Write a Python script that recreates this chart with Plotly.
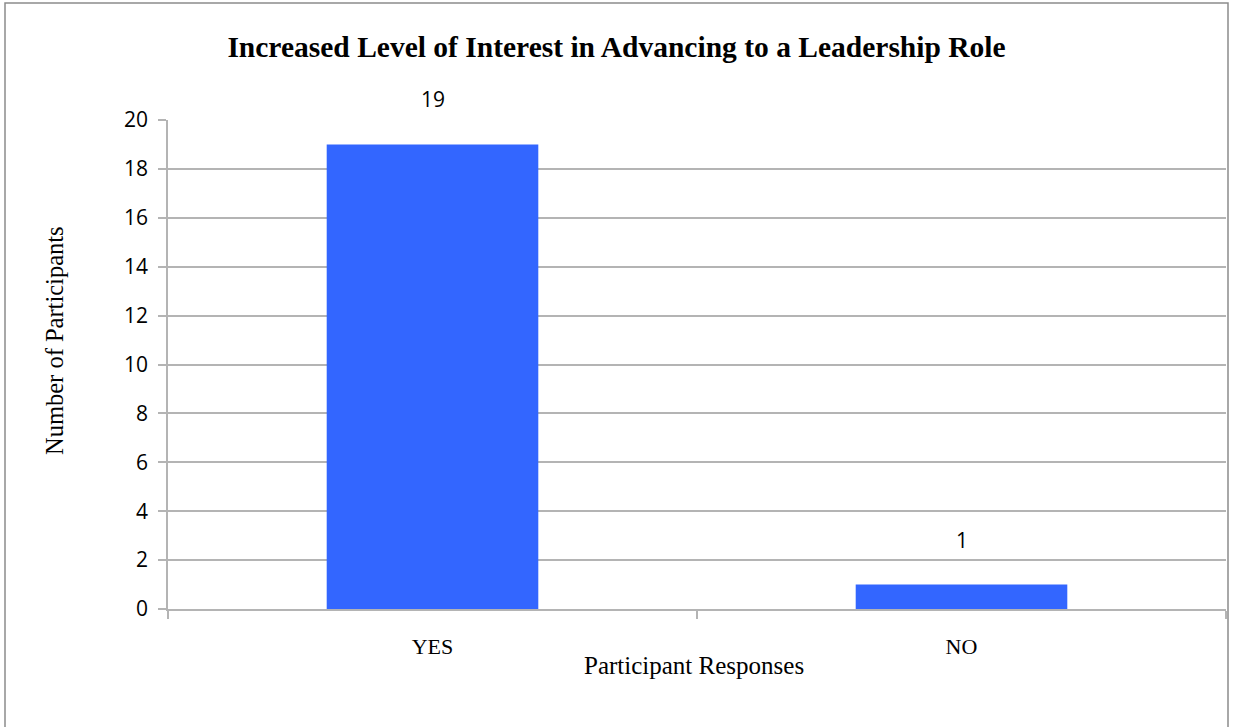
import plotly.graph_objects as go

# Survey responses
responses = ["YES", "NO"]
participants = [19, 1]

title_text = "Increased Level of Interest in Advancing to a Leadership Role"
x_title = "Participant Responses"
y_title = "Number of Participants"
y_ticks = [0, 2, 4, 6, 8, 10, 12, 14, 16, 18, 20]

W, H = 1233, 727
ML, MR, MT, MB = 168, 7, 120, 118
PW, PH = W - ML - MR, H - MT - MB

GRID = "#b4b4b4"
BAR = "#3366ff"
SERIF = "Liberation Serif, Times New Roman, serif"
SANS = "Open Sans, Lato, sans-serif"

fig = go.Figure(
    go.Bar(
        x=responses,
        y=participants,
        width=0.4,
        marker=dict(color=BAR, line=dict(width=0)),
        hoverinfo="x+y",
    )
)

# value labels above each bar
for r, v in zip(responses, participants):
    fig.add_annotation(
        x=r, y=v, xref="x", yref="y", text=str(v), showarrow=False,
        yanchor="middle", yshift=45,
        font=dict(family=SANS, size=21, color="#000000"),
    )

# axis titles
fig.add_annotation(
    x=(694 - ML) / PW, y=1 - (665 - MT) / PH, xref="paper", yref="paper",
    text=x_title, showarrow=False, xanchor="center", yanchor="middle",
    font=dict(family=SERIF, size=25, color="#000000"),
)
fig.add_annotation(
    x=(54 - ML) / PW, y=1 - (341 - MT) / PH, xref="paper", yref="paper",
    text=y_title, showarrow=False, textangle=-90, xanchor="center", yanchor="middle",
    font=dict(family=SERIF, size=24.5, color="#000000"),
)

# outer chart border
fig.add_shape(
    type="rect", xref="paper", yref="paper",
    x0=(5 - ML) / PW, x1=(1228 - ML) / PW,
    y0=1 - (740 - MT) / PH, y1=1 - (3 - MT) / PH,
    line=dict(color="#8c8c8c", width=1.5), fillcolor="rgba(0,0,0,0)", layer="below",
)

fig.update_layout(
    width=W, height=H,
    margin=dict(l=ML, r=MR, t=MT, b=MB, autoexpand=False),
    paper_bgcolor="#ffffff", plot_bgcolor="#ffffff",
    showlegend=False,
    title=dict(
        text="<b>" + title_text + "</b>",
        x=0.5, xref="container", xanchor="center",
        y=1 - 47 / H, yref="container", yanchor="middle",
        font=dict(family=SERIF, size=29.5, color="#000000"),
    ),
    xaxis=dict(
        type="category", range=[-0.5, 1.5],
        showline=True, linecolor=GRID, linewidth=1.5,
        ticks="outside", tickson="boundaries", ticklen=8, tickcolor=GRID, tickwidth=1.5,
        ticklabelstandoff=17,
        tickfont=dict(family=SERIF, size=22, color="#000000"),
        showgrid=False, zeroline=False,
    ),
    yaxis=dict(
        range=[0, 20], tickvals=y_ticks,
        showline=True, linecolor=GRID, linewidth=1.5,
        ticks="outside", ticklen=8, tickcolor=GRID, tickwidth=1.5,
        ticklabelstandoff=6,
        tickfont=dict(family=SANS, size=21, color="#000000"),
        showgrid=True, gridcolor=GRID, gridwidth=1.5, zeroline=False,
    ),
)

fig.write_html("out.html")
